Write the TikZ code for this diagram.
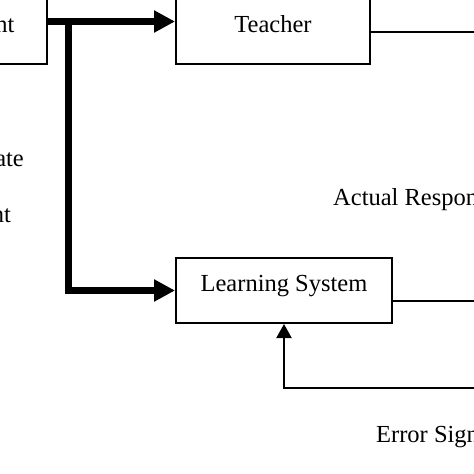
\documentclass[tikz,border=0pt]{standalone}
\usepackage{fontspec}
\setmainfont{Liberation Serif}
\usetikzlibrary{arrows.meta,calc,positioning}

\tikzset{
	box/.style={draw,line width=2pt,rectangle,minimum height=65pt,inner sep=0pt,
		text height=16pt,text depth=15pt,font=\fontsize{24.5}{28}\selectfont},
	lbl/.style={inner sep=0pt,font=\fontsize{24.5}{28}\selectfont},
	thickarrow/.style={line width=7pt,-{Triangle[length=21pt,width=21pt]}},
	thinline/.style={line width=2pt},
	thinarrow/.style={line width=2pt,-{Triangle[length=14pt,width=15pt]}},
}

\begin{document}
\begin{tikzpicture}[x=1pt,y=-1pt]
		\useasboundingbox (0,0) rectangle (474,474);
		\clip (0,0) rectangle (474,474);
		%
		\node[box,minimum width=193pt] (env) at (-49.5,31.5) {Environment};
		\node[box,minimum width=194pt] (teacher) at (273,31.5) {Teacher};
		\node[box,minimum width=216pt] (learn) at (284,290.5) {Learning System};
		%
		\coordinate (split) at (68.5,21.5);
		\coordinate (desired) at (490,31.5);
		\coordinate (actual) at ($(learn.east)+(0,10.5)$);
		\coordinate (actualend) at (490,301);
		\coordinate (error) at (490,388);
		%
		\node[lbl,anchor=base east] (state1) at (24,166) {Describing State};
		\node[lbl,anchor=base east] (state2) at (11,222) {of Environment};
		\node[lbl,anchor=base west] (actlbl) at (333,205) {Actual Response};
		\node[lbl,anchor=base west] (errlbl) at (376,442) {Error Signal};
		%
		\draw[thickarrow] (env.east |- split) -- (teacher.west |- split);
		\draw[thickarrow] (split) |- (learn.west);
		\draw[thinline] (teacher.east) -- (desired);
		\draw[thinline] (actual) -- (actualend);
		\draw[thinarrow] (error) -| (learn.south);
	\end{tikzpicture}
\end{document}
